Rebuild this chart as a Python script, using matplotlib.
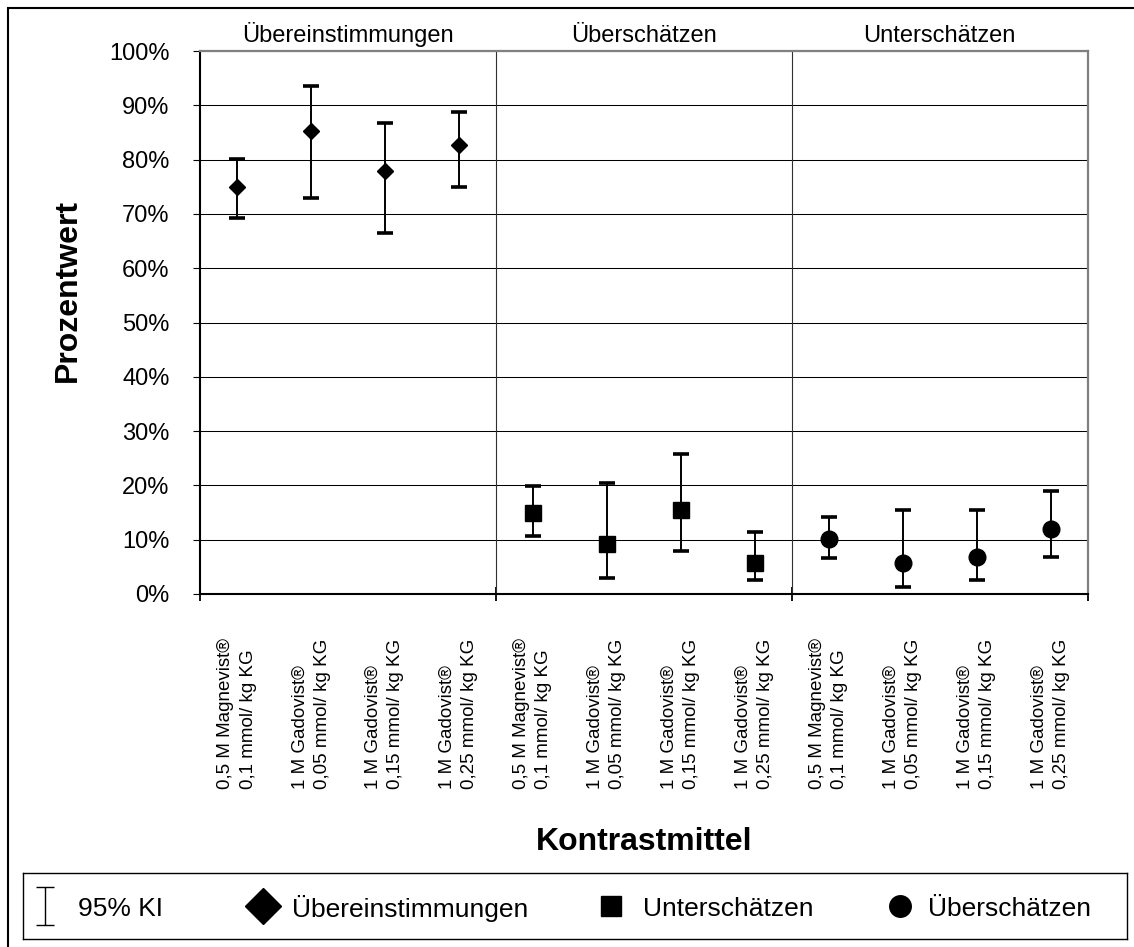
import numpy as np
import matplotlib.pyplot as plt
from matplotlib.path import Path
from matplotlib.patches import Rectangle
from matplotlib.ticker import PercentFormatter, MultipleLocator

plt.rcParams['font.family'] = ['Liberation Sans', 'DejaVu Sans']

# categories (contrast agent / dose), repeated for every panel
kontrastmittel = ["0,5 M Magnevist®\n0,1 mmol/ kg KG",
                  "1 M Gadovist®\n0,05 mmol/ kg KG",
                  "1 M Gadovist®\n0,15 mmol/ kg KG",
                  "1 M Gadovist®\n0,25 mmol/ kg KG"]
panels = ["Übereinstimmungen", "Überschätzen", "Unterschätzen"]

# percentages with 95% confidence interval
ueber_mean = np.array([75.0, 85.3, 77.9, 82.6])
ueber_lo   = np.array([69.3, 72.9, 66.4, 75.0])
ueber_hi   = np.array([80.2, 93.6, 86.7, 88.8])

ueberschaetz_mean = np.array([14.9, 9.2, 15.5, 5.7])
ueberschaetz_lo   = np.array([10.7, 3.0, 8.0, 2.5])
ueberschaetz_hi   = np.array([19.9, 20.5, 25.8, 11.4])

unterschaetz_mean = np.array([10.1, 5.7, 6.9, 12.0])
unterschaetz_lo   = np.array([6.6, 1.3, 2.5, 6.9])
unterschaetz_hi   = np.array([14.2, 15.5, 15.5, 19.0])

legend_labels = ["95% KI", "Übereinstimmungen", "Unterschätzen", "Überschätzen"]

W, H = 1134, 947
fig = plt.figure(figsize=(W / 100, H / 100), dpi=100)
ax = fig.add_axes([200 / W, 1 - 594 / H, 887.5 / W, 543 / H])

n = len(kontrastmittel)
series = [(ueber_mean, ueber_lo, ueber_hi, 'D', 8.5),
          (ueberschaetz_mean, ueberschaetz_lo, ueberschaetz_hi, 's', 12),
          (unterschaetz_mean, unterschaetz_lo, unterschaetz_hi, 'o', 12)]

for i, (mean, lo, hi, marker, ms) in enumerate(series):
    x = np.arange(n) + i * n
    ax.errorbar(x, mean, yerr=[mean - lo, hi - mean], fmt='none',
                ecolor='black', elinewidth=1.4, capsize=6, capthick=2.6, zorder=3)
    ax.plot(x, mean, ls='none', marker=marker, ms=ms, color='black', zorder=4)

ax.set_xlim(-0.5, 3 * n - 0.5)
ax.set_ylim(0, 100)

# panel separators and headers
for b in range(1, 3):
    ax.axvline(b * n - 0.5, color='#303030', lw=0.8, zorder=1)
for i, title in enumerate(panels):
    ax.annotate(title, xy=(i * n + (n - 1) / 2, 1), xycoords=('data', 'axes fraction'),
                xytext=(0, 6.5), textcoords='offset points',
                ha='center', va='baseline', fontsize=17)

ax.yaxis.set_major_locator(MultipleLocator(10))
ax.yaxis.set_major_formatter(PercentFormatter(xmax=100, decimals=0))
ax.grid(axis='y', color='black', lw=0.75, zorder=0)
ax.set_axisbelow(True)
ax.tick_params(axis='y', direction='out', length=5, width=0.8, labelsize=17, pad=17)

ax.set_xticks([-0.5, n - 0.5, 2 * n - 0.5, 3 * n - 0.5])
ax.set_xticklabels([])
ax.tick_params(axis='x', which='major', direction='inout', length=10, width=1.3)
ax.set_xticks(np.arange(3 * n), kontrastmittel * 3, minor=True)
ax.tick_params(axis='x', which='minor', length=0, labelsize=13.5, labelrotation=90, pad=32)
for lbl in ax.get_xticklabels(minor=True):
    lbl.set_multialignment('left')
    lbl.set_linespacing(1.4)

for side in ['left', 'bottom']:
    ax.spines[side].set_color('black')
    ax.spines[side].set_linewidth(1.5)
for side in ['top', 'right']:
    ax.spines[side].set_color('#808080')
    ax.spines[side].set_linewidth(1.6)

ax.set_ylabel("Prozentwert", fontsize=23, fontweight='bold', va='center', ha='center')
ax.yaxis.set_label_coords((68 - 200) / 887.5, 1 - (290 - 51) / 543)
ax.set_xlabel("Kontrastmittel", fontsize=23, fontweight='bold', va='center', ha='center')
ax.xaxis.set_label_coords(0.5, -(842 - 594) / 543)

# outer frame (only top and left edge fall inside the canvas)
fig.add_artist(Rectangle((8 / W, -0.05), 1.2, 1.05 - 8 / H, transform=fig.transFigure,
                         fill=False, ec='black', lw=1.5))

# legend box
lax = fig.add_axes([23 / W, 1 - 939 / H, 1104 / W, 66 / H])
lax.set_xlim(23, 1127)
lax.set_ylim(0, 1)
lax.set_xticks([])
lax.set_yticks([])
for s in lax.spines.values():
    s.set_linewidth(1.0)

ibeam = Path([(-0.5, -1), (0.5, -1), (0, -1), (0, 1), (-0.5, 1), (0.5, 1)],
             [Path.MOVETO, Path.LINETO, Path.MOVETO, Path.LINETO, Path.MOVETO, Path.LINETO])
handles = [(ibeam, 27, 'none'), ('D', 18.5, 'black'), ('s', 15, 'black'), ('o', 15.5, 'black')]
marker_x = [45, 263, 611, 900]
text_x = [78, 292, 643, 928]
for (m, ms, fc), mx, tx, lab in zip(handles, marker_x, text_x, legend_labels):
    lax.plot([mx], [0.5], ls='none', marker=m, ms=ms, mfc=fc, mec='black', mew=1.0)
    lax.text(tx, 0.5, lab, ha='left', va='center_baseline', fontsize=19)

fig.savefig('out.png', dpi=100)
